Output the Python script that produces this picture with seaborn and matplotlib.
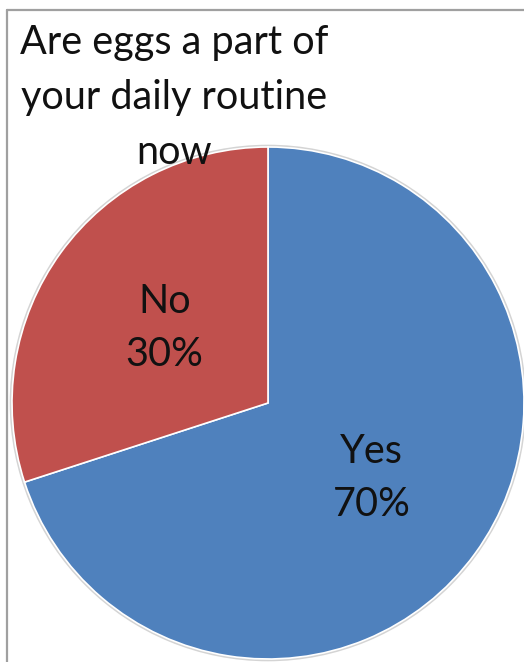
import matplotlib
matplotlib.use("Agg")
import matplotlib.pyplot as plt
from matplotlib.lines import Line2D
import seaborn as sns

# Survey answers
labels = ["Yes", "No"]
shares = [70, 30]
title = "Are eggs a part of\nyour daily routine\nnow"

sns.set_theme(style="white")
plt.rcParams["font.family"] = ["Lato", "DejaVu Sans"]

W, H = 524, 662
fig = plt.figure(figsize=(W / 100, H / 100), dpi=100)
ax = fig.add_axes([0, 0, 1, 1])

colors = ["#4F81BD", "#C0504D"]

def fmt(pct, _it=iter(labels)):
    return f"{next(_it)}\n{pct:.0f}%"

cx, cy, r = 268, H - 403, 256
# soft gray rim around the pie
ax.pie([1], colors=["none"], radius=r + 1.2, center=(cx, cy),
       wedgeprops=dict(edgecolor="#d4d4d4", linewidth=1.6), frame=True)
wedges, texts, autotexts = ax.pie(
    shares, colors=colors, startangle=90, counterclock=False,
    radius=r, center=(cx, cy), autopct=fmt, pctdistance=0.5,
    wedgeprops=dict(edgecolor="white", linewidth=1.2),
    textprops=dict(fontsize=28.5, color="#111111", linespacing=1.55),
    frame=True,
)
ax.set_xlim(0, W)
ax.set_ylim(0, H)
ax.axis("off")
ax.set_aspect("auto")

ax.text(174, H - 24, title, ha="center", va="top", fontsize=28.5,
        color="#111111", linespacing=1.6)

# chart border (left and top edges visible)
fig.add_artist(Line2D([7 / W, 7 / W], [0, 1 - 10 / H], color="#a0a0a0", lw=1.6))
fig.add_artist(Line2D([7 / W, 1], [1 - 10 / H, 1 - 10 / H], color="#a0a0a0", lw=1.6))

fig.savefig("out.png", dpi=100)
